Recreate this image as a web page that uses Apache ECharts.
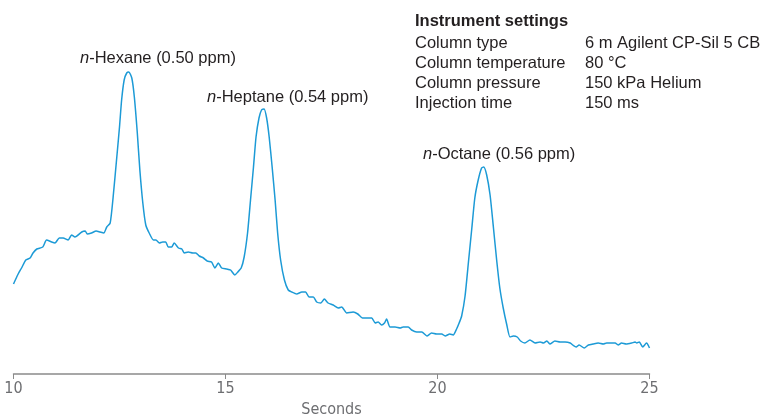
<!DOCTYPE html>
<html>
<head>
<meta charset="utf-8">
<script src="https://cdn.jsdelivr.net/npm/echarts@6/dist/echarts.min.js"></script>
<style>
  html, body { margin: 0; padding: 0; background: #fff; }
  #chart { width: 764px; height: 417px; }
</style>
</head>
<body>
<div id="chart"></div>
<script>
// retention time (s) and detector signal (arbitrary units)
const times = [
  10.00, 10.11, 10.19, 10.29, 10.39, 10.46, 10.55, 10.69, 10.78, 10.90,
  10.98, 11.08, 11.17, 11.29, 11.37, 11.45, 11.61, 11.69, 11.74, 11.84,
  11.95, 12.04, 12.13, 12.20, 12.28, 12.35, 12.43, 12.50, 12.55, 12.61,
  12.67, 12.72, 12.79, 12.85, 12.92, 12.98, 13.05, 13.12, 13.20, 13.30,
  13.36, 13.44, 13.52, 13.59, 13.65, 13.73, 13.79, 13.89, 13.97, 14.03,
  14.12, 14.23, 14.30, 14.38, 14.48, 14.57, 14.67, 14.75, 14.83, 14.91,
  15.03, 15.12, 15.22, 15.29, 15.37, 15.44, 15.52, 15.59, 15.66, 15.72,
  15.79, 15.85, 15.91, 15.97, 16.03, 16.10, 16.17, 16.23, 16.30, 16.39,
  16.48, 16.56, 16.68, 16.80, 16.89, 16.97, 17.07, 17.15, 17.25, 17.33,
  17.42, 17.54, 17.66, 17.74, 17.86, 18.01, 18.12, 18.23, 18.37, 18.45,
  18.53, 18.60, 18.68, 18.75, 18.80, 18.88, 19.00, 19.12, 19.19, 19.31,
  19.39, 19.51, 19.63, 19.75, 19.86, 19.98, 20.10, 20.18, 20.29, 20.37,
  20.45, 20.51, 20.57, 20.65, 20.73, 20.81, 20.88, 20.96, 21.04, 21.09,
  21.16, 21.24, 21.32, 21.40, 21.47, 21.55, 21.63, 21.71, 21.79, 21.88,
  21.96, 22.06, 22.18, 22.30, 22.42, 22.50, 22.58, 22.65, 22.77, 22.89,
  23.01, 23.13, 23.19, 23.27, 23.34, 23.46, 23.56, 23.67, 23.79, 23.91,
  23.99, 24.11, 24.19, 24.26, 24.34, 24.45, 24.58, 24.66, 24.70, 24.76,
  24.84, 24.93, 25.00
];
const signal = [
  90, 100, 106, 114, 116, 121, 125, 127, 134, 132,
  131, 136, 136, 134, 139, 137, 142, 143, 140, 141,
  143, 142, 141, 147, 151, 177, 214, 247, 274, 294,
  301, 302, 296, 277, 241, 204, 171, 149, 141, 134,
  134, 131, 132, 132, 127, 127, 131, 126, 125, 121,
  122, 121, 121, 118, 116, 113, 112, 106, 111, 106,
  105, 104, 99, 102, 106, 117, 141, 174, 207, 237,
  256, 264, 265, 256, 237, 207, 174, 141, 114, 94,
  84, 82, 80, 82, 82, 77, 77, 72, 71, 75,
  71, 69, 66, 67, 61, 62, 60, 56, 56, 56,
  51, 52, 49, 51, 55, 47, 47, 46, 47, 47,
  44, 42, 42, 38, 41, 40, 40, 38, 40, 39,
  45, 51, 58, 78, 112, 146, 176, 194, 206, 207,
  199, 179, 146, 112, 86, 66, 50, 37, 38, 37,
  33, 31, 34, 31, 32, 31, 33, 30, 33, 32,
  32, 31, 29, 27, 29, 26, 29, 30, 31, 30,
  31, 31, 31, 29, 31, 30, 31, 32, 31, 32,
  27, 31, 26
];
const xTicks = [10, 15, 20, 25];

const peakLabels = [
  { name: 'Hexane', ppm: '0.50' },
  { name: 'Heptane', ppm: '0.54' },
  { name: 'Octane', ppm: '0.56' }
];
const settingNames = ['Column type', 'Column temperature', 'Column pressure', 'Injection time'];
const settingValues = ['6 m Agilent CP-Sil 5 CB', '80 °C', '150 kPa Helium', '150 ms'];

const FONT = '"Liberation Sans", Arial, sans-serif';
const NARROW = '"Liberation Sans Narrow", "DejaVu Sans Condensed", "Liberation Sans", sans-serif';
const TEXT = '#231f20';
const BLUE = '#1c9ad6';

const myEcharts = echarts.init(document.getElementById('chart'));

// peak label spots (left edge, top)
const peakPos = [[80, 50], [207, 89], [423, 146]];
const graphics = peakLabels.map((p, i) => ({
  type: 'text',
  left: peakPos[i][0],
  top: peakPos[i][1],
  style: {
    text: '{i|n}-' + p.name + ' (' + p.ppm + ' ppm)',
    font: '16.5px ' + FONT,
    fill: TEXT,
    rich: { i: { fontStyle: 'italic', fontSize: 16.5, fontFamily: FONT, fill: TEXT } }
  }
}));

graphics.push({
  type: 'text',
  left: 415,
  top: 13,
  style: { text: 'Instrument settings', font: 'bold 16.5px ' + FONT, fill: TEXT }
});
settingNames.forEach((s, i) => {
  graphics.push({
    type: 'text', left: 415, top: 35 + i * 20,
    style: { text: s, font: '16.5px ' + FONT, fill: TEXT }
  });
  graphics.push({
    type: 'text', left: 585, top: 35 + i * 20,
    style: { text: settingValues[i], font: '16.5px ' + FONT, fill: TEXT }
  });
});

const option = {
  animation: false,
  grid: { left: 13.5, right: 114.5, top: 54, bottom: 43, outerBoundsMode: 'none' },
  xAxis: {
    type: 'value',
    min: xTicks[0],
    max: xTicks[xTicks.length - 1],
    interval: 5,
    name: 'Seconds',
    nameLocation: 'middle',
    nameGap: 28,
    nameTextStyle: { color: '#6d6e71', fontSize: 16, fontFamily: NARROW },
    axisLine: { lineStyle: { color: '#8a8a8a', width: 1.5 } },
    axisTick: { show: true, length: 5, lineStyle: { color: '#8a8a8a', width: 1 } },
    axisLabel: { color: '#6d6e71', fontSize: 16, fontFamily: NARROW, margin: 7 },
    splitLine: { show: false }
  },
  yAxis: {
    type: 'value',
    min: 0,
    max: 320,
    show: false
  },
  series: [
    {
      type: 'line',
      data: times.map((t, i) => [t, signal[i]]),
      showSymbol: false,
      smooth: 0.2,
      lineStyle: { color: BLUE, width: 1.5 }
    }
  ],
  graphic: graphics
};
myEcharts.setOption(option);
</script>
</body>
</html>
